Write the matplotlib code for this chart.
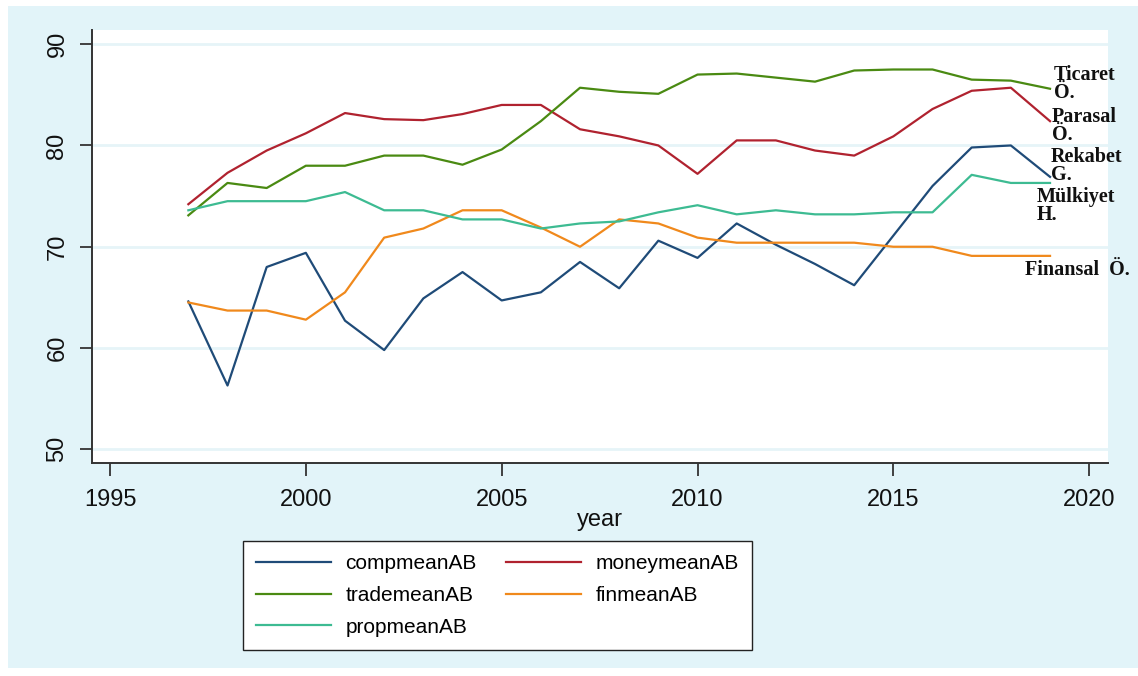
import matplotlib.pyplot as plt
from matplotlib.patches import Rectangle

years = list(range(1997, 2020))

compmean = [64.6, 56.3, 68.0, 69.4, 62.7, 59.8, 64.9, 67.5, 64.7, 65.5, 68.5, 65.9,
            70.6, 68.9, 72.3, 70.2, 68.3, 66.2, 71.1, 76.0, 79.8, 80.0, 76.9]
moneymean = [74.2, 77.3, 79.5, 81.2, 83.2, 82.6, 82.5, 83.1, 84.0, 84.0, 81.6, 80.9,
             80.0, 77.2, 80.5, 80.5, 79.5, 79.0, 80.9, 83.6, 85.4, 85.7, 82.4]
trademean = [73.1, 76.3, 75.8, 78.0, 78.0, 79.0, 79.0, 78.1, 79.6, 82.4, 85.7, 85.3,
             85.1, 87.0, 87.1, 86.7, 86.3, 87.4, 87.5, 87.5, 86.5, 86.4, 85.6]
finmean = [64.5, 63.7, 63.7, 62.8, 65.5, 70.9, 71.8, 73.6, 73.6, 71.9, 70.0, 72.7,
           72.3, 70.9, 70.4, 70.4, 70.4, 70.4, 70.0, 70.0, 69.1, 69.1, 69.1]
propmean = [73.6, 74.5, 74.5, 74.5, 75.4, 73.6, 73.6, 72.7, 72.7, 71.8, 72.3, 72.5,
            73.4, 74.1, 73.2, 73.6, 73.2, 73.2, 73.4, 73.4, 77.1, 76.3, 76.3]

names = ["compmeanAB", "moneymeanAB", "trademeanAB", "finmeanAB", "propmeanAB"]
series = [compmean, moneymean, trademean, finmean, propmean]
colors = ["#1f4b78", "#b0222f", "#4a8a12", "#f0891c", "#3dbb92"]

# end-of-line labels: (series index, lines, dx, dy) offsets in pixels
end_labels = [
    (2, ["Ticaret", "Ö."], 4, 9),
    (1, ["Parasal", "Ö."], 2, -1),
    (0, ["Rekabet", "G."], 1, 15),
    (4, ["Mülkiyet", "H."], -13, -19),
    (3, ["Finansal  Ö."], -25, -19),
]

plt.rcParams["font.family"] = ["Liberation Sans", "DejaVu Sans"]

fig = plt.figure(figsize=(11.38, 6.76), dpi=100, facecolor="white")
fig.patches.append(Rectangle((8 / 1138, 8 / 676), 1, 662 / 676, transform=fig.transFigure,
                             facecolor="#e2f4f9", edgecolor="none", zorder=-10))

ax = fig.add_axes([92 / 1138, 213 / 676, 1016 / 1138, 433 / 676])
ax.set_facecolor("white")

lines = []
for name, vals, c in zip(names, series, colors):
    ln, = ax.plot(years, vals, color=c, lw=1.6, label=name)
    lines.append(ln)

ax.set_xlim(1994.54, 2020.48)
ax.set_ylim(48.65, 91.4)
ax.set_xticks([1995, 2000, 2005, 2010, 2015, 2020])
ax.set_yticks([50, 60, 70, 80, 90])
ax.grid(axis="y", color="#e6f4f8", lw=2)
ax.set_axisbelow(True)

for s in ["top", "right"]:
    ax.spines[s].set_visible(False)
for s in ["left", "bottom"]:
    ax.spines[s].set_color("#333333")
    ax.spines[s].set_linewidth(1.4)

ax.tick_params(axis="both", colors="#333333", labelcolor="#111111", length=9,
               width=1.3, labelsize=17, pad=10)
ax.tick_params(axis="y", pad=8)
for lab in ax.get_yticklabels():
    lab.set_rotation(90)
    lab.set_va("center")

ax.set_xlabel("year", fontsize=17, labelpad=-2, color="#111111")

for idx, text_lines, dx, dy in end_labels:
    x_end, y_end = years[-1], series[idx][-1]
    for k, t in enumerate(text_lines):
        ax.annotate(t, xy=(x_end, y_end), xytext=(dx, dy - 18 * k),
                    textcoords="offset pixels", ha="left", va="baseline",
                    fontfamily="Liberation Serif", fontweight="bold", fontsize=14.5,
                    color="#111111", annotation_clip=False)

order = [0, 2, 4, 1, 3]
leg = fig.legend([lines[i] for i in order], [names[i] for i in order], ncol=2,
                 loc="upper left", bbox_to_anchor=(243 / 1138, 1 - 541 / 676),
                 fontsize=15, frameon=True, fancybox=False, framealpha=1,
                 handlelength=3.6, handletextpad=0.7, columnspacing=1.4,
                 labelspacing=0.62, borderpad=0.62, borderaxespad=0)
leg.get_frame().set_edgecolor("#222222")
leg.get_frame().set_facecolor("white")
leg.get_frame().set_linewidth(1.0)

fig.savefig("out.png", dpi=100, facecolor=fig.get_facecolor())
